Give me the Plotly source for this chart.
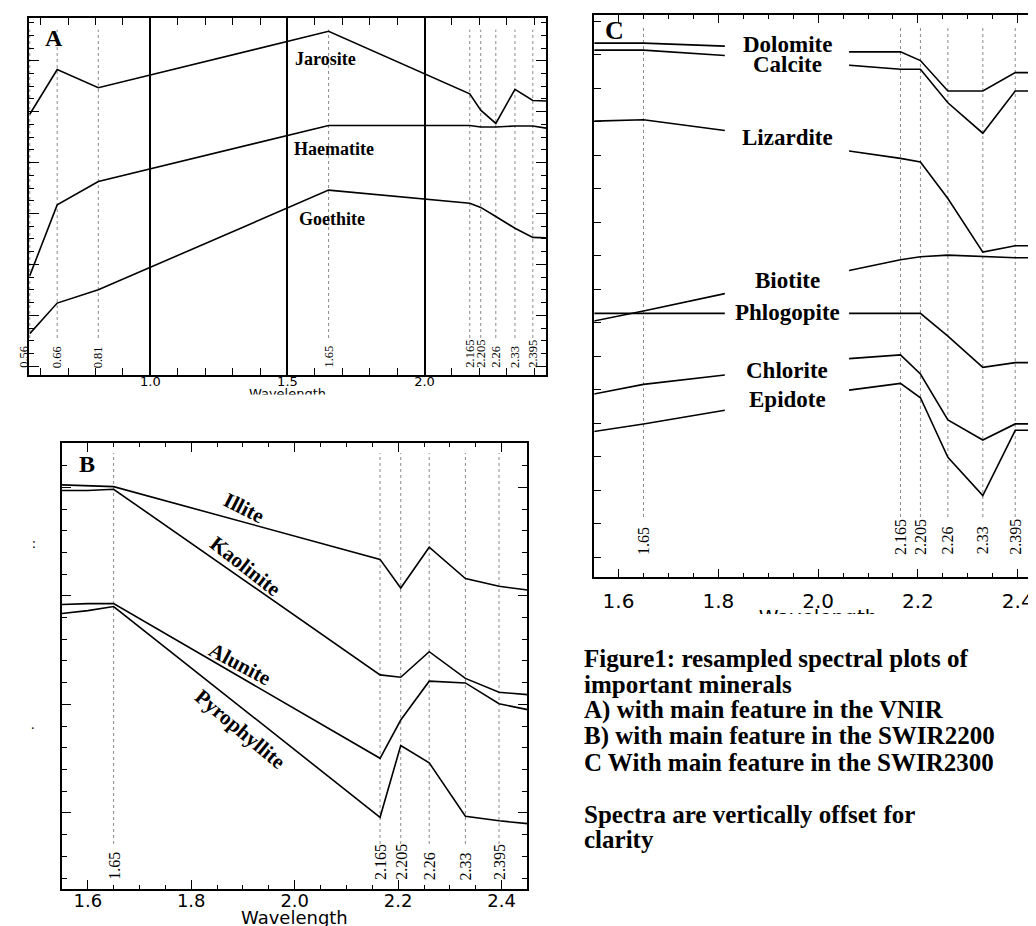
import plotly.graph_objects as go

W, H = 1036, 926

# ---------------- data (offset reflectance, arbitrary units) ----------------
# Panel A : main feature in the VNIR
wl_a = [0.56, 0.66, 0.81, 1.65, 2.165, 2.205, 2.26, 2.33, 2.395, 2.45]
jarosite = [5.95, 6.83, 6.47, 7.58, 6.35, 6.03, 5.77, 6.44, 6.22, 6.21]
haematite = [2.78, 4.17, 4.63, 5.73, 5.73, 5.70, 5.70, 5.72, 5.72, 5.67]
goethite = [1.64, 2.24, 2.50, 4.46, 4.20, 4.12, 3.94, 3.71, 3.53, 3.52]

# Panel B : main feature in the SWIR2200
wl_b = [1.55, 1.60, 1.65, 2.165, 2.205, 2.26, 2.33, 2.395, 2.45]
illite = [19.11, 19.06, 19.03, 15.68, 14.36, 16.24, 14.80, 14.44, 14.27]
kaolinite = [18.85, 18.85, 18.91, 10.36, 10.25, 11.43, 10.20, 9.56, 9.45]
alunite = [13.60, 13.64, 13.64, 6.52, 8.28, 10.07, 9.99, 9.03, 8.76]
pyrophyllite = [13.19, 13.32, 13.51, 3.80, 7.11, 6.31, 3.85, 3.64, 3.51]

# Panel C : main feature in the SWIR2300
wl_c = [1.55, 1.65, 1.813, 2.062, 2.165, 2.205, 2.26, 2.33, 2.395, 2.45]
dolomite = [16.35, 16.35, 16.26, 16.09, 16.09, 15.83, 14.92, 14.92, 15.47, 15.47]
calcite = [16.14, 16.14, 15.98, 15.70, 15.57, 15.57, 14.57, 13.66, 14.92, 14.92]
lizardite = [14.02, 14.06, 13.74, 13.13, 12.91, 12.80, 11.71, 10.11, 10.30, 10.30]
biotite = [8.05, 8.35, 8.87, 9.56, 9.88, 9.97, 10.02, 9.97, 9.94, 9.94]
phlogopite = [8.28, 8.28, 8.28, 8.28, 8.28, 8.28, 7.60, 6.67, 6.81, 6.81]
chlorite = [5.87, 6.16, 6.44, 6.93, 7.04, 6.47, 5.10, 4.50, 4.98, 4.98]
epidote = [4.75, 4.98, 5.39, 5.99, 6.19, 5.76, 3.98, 2.84, 4.79, 4.79]

bands_a = [0.56, 0.66, 0.81, 1.65, 2.165, 2.205, 2.26, 2.33, 2.395]
band_labels_a = ["0.56", "0.66", "0.81", "1.65", "2.165", "2.205", "2.26", "2.33", "2.395"]
bands_bc = [1.65, 2.165, 2.205, 2.26, 2.33, 2.395]
band_labels_bc = ["1.65", "2.165", "2.205", "2.26", "2.33", "2.395"]

ticks_a = [1.0, 1.5, 2.0]
tick_text_a = ["1.0", "1.5", "2.0"]
ticks_bc = [1.6, 1.8, 2.0, 2.2, 2.4]
tick_text_bc = ["1.6", "1.8", "2.0", "2.2", "2.4"]
x_title = "Wavelength"

caption_lines = [
    "Figure1: resampled spectral plots of",
    "important minerals",
    "A) with main feature in the VNIR",
    "B) with main feature in the SWIR2200",
    "C With main feature in the SWIR2300",
    "",
    "Spectra are vertically offset for",
    "clarity",
]

# ---------------- helpers ----------------
def px(x):
    return x / W

def py(y):
    return 1 - y / H

SERIF = "Liberation Serif"
SANS = "DejaVu Sans"
LINE = dict(color="black", width=1.6)

fig = go.Figure()

panels = [
    ("x", "y", wl_a, [jarosite, haematite, goethite], ["Jarosite", "Haematite", "Goethite"]),
    ("x2", "y2", wl_b, [illite, kaolinite, alunite, pyrophyllite],
     ["Illite", "Kaolinite", "Alunite", "Pyrophyllite"]),
    ("x3", "y3", wl_c, [dolomite, calcite, lizardite, biotite, phlogopite, chlorite, epidote],
     ["Dolomite", "Calcite", "Lizardite", "Biotite", "Phlogopite", "Chlorite", "Epidote"]),
]
for xa, ya, wl, series, names in panels:
    for ys, nm in zip(series, names):
        fig.add_trace(go.Scatter(x=wl, y=ys, mode="lines", line=LINE, name=nm,
                                 xaxis=xa, yaxis=ya, hoverinfo="skip", showlegend=False))

# invisible traces that carry the (cropped) axis titles of panels A and C
fig.add_trace(go.Scatter(x=[1.5], y=[None], xaxis="x4", yaxis="y", showlegend=False, hoverinfo="skip"))
fig.add_trace(go.Scatter(x=[2.0], y=[None], xaxis="x5", yaxis="y3", showlegend=False, hoverinfo="skip"))

shapes = []
annotations = []

# dotted band-centre lines and their rotated labels
def band_lines(bands, labels, xref, ytop, ybot, ylab, size, shift_first=0):
    for i, (b, lab) in enumerate(zip(bands, labels)):
        shapes.append(dict(type="line", xref=xref, yref="paper", x0=b, x1=b,
                           y0=py(ybot), y1=py(ytop), layer="below",
                           line=dict(color="#8a8a8a", width=1, dash="dot")))
        annotations.append(dict(x=b, xref=xref, y=py(ylab), yref="paper", text=lab,
                                showarrow=False, textangle=-90, xanchor="center",
                                yanchor="bottom", xshift=(shift_first if i == 0 else 0),
                                font=dict(family=SERIF, size=size, color="black")))

band_lines(bands_a, band_labels_a, "x", 21.6, 330, 362, 12.5, shift_first=-6)
band_lines(bands_bc, band_labels_bc, "x2", 445, 836, 874, 16)
band_lines(bands_bc, band_labels_bc, "x3", 18, 509, 548.5, 16)

# white gap behind the labels in panel C
shapes.append(dict(type="rect", xref="x3", yref="paper", x0=1.813, x1=2.062,
                   y0=py(420), y1=py(15), fillcolor="white", line=dict(width=0), layer="above"))
# crops of the original montage (bottom of panel A and C axes)
shapes.append(dict(type="rect", xref="paper", yref="paper", x0=0, x1=px(560),
                   y0=py(432), y1=py(386.5), fillcolor="white", line=dict(width=0), layer="above"))
shapes.append(dict(type="rect", xref="paper", yref="paper", x0=px(560), x1=1,
                   y0=py(630), y1=py(606), fillcolor="white", line=dict(width=0), layer="above"))

def label(text, x, y, size, angle=0, family=SERIF, bold=True, xanchor="center"):
    annotations.append(dict(x=px(x), y=py(y), xref="paper", yref="paper",
                            text=(f"<b>{text}</b>" if bold else text), showarrow=False,
                            textangle=angle, xanchor=xanchor, yanchor="middle",
                            font=dict(family=family, size=size, color="black")))

# panel letters
label("A", 46, 29.5, 24)
label("B", 79.5, 456, 24)
label("C", 608, 22.5, 26)

# panel A mineral names
label("Jarosite", 318, 51.5, 18)
label("Haematite", 327, 140.5, 18)
label("Goethite", 325, 211.5, 18)

# panel B mineral names (rotated along the spectra)
label("Illite", 236.5, 500, 21, angle=27)
label("Kaolinite", 237.5, 558, 21, angle=38)
label("Alunite", 232.5, 655.5, 21, angle=28)
label("Pyrophyllite", 232.5, 721, 21, angle=40)

# panel C mineral names
for nm, yy in zip(["Dolomite", "Calcite", "Lizardite", "Biotite", "Phlogopite", "Chlorite", "Epidote"],
                  [36.9, 56.1, 129, 272.8, 304.7, 362.2, 391.7]):
    label(nm, 780.7, yy, 23)

# panel B axis title
annotations.append(dict(x=2.0, xref="x2", y=py(909), yref="paper", text=x_title,
                        showarrow=False, xanchor="center", yanchor="middle",
                        font=dict(family=SANS, size=18, color="black")))

# stray remnants left of panel B
label(":", 26, 535, 14, bold=False)
label(".", 25, 716, 14, bold=False)

# caption
cap_y = [650, 676, 702, 728, 754, 780, 806, 831]
for txt, yy in zip(caption_lines, cap_y):
    if txt:
        label(txt, 575, yy, 25, xanchor="left")

axis_common = dict(showline=True, linecolor="black", linewidth=2, mirror="ticks",
                   ticks="inside", tickcolor="black", tickwidth=1.3, zeroline=False,
                   showgrid=False, fixedrange=True)
title_axis = dict(showline=False, ticks="", showgrid=False, zeroline=False, fixedrange=True,
                  tickmode="array", side="bottom")

fig.update_layout(
    width=W, height=H, margin=dict(l=0, r=0, t=0, b=0),
    paper_bgcolor="white", plot_bgcolor="rgba(0,0,0,0)", showlegend=False,
    font=dict(family=SANS, color="black"),
    xaxis=dict(axis_common, domain=[px(21), px(539)], anchor="y", range=[0.557, 2.443],
               tickmode="array", tickvals=ticks_a, ticktext=tick_text_a, ticklen=7,
               showgrid=True, gridcolor="black", gridwidth=1.5,
               tickfont=dict(family=SANS, size=13), ticklabelstandoff=-7,
               minor=dict(tick0=0, dtick=0.1, ticklen=7, ticks="inside", tickcolor="black",
                          tickwidth=1.3, showgrid=False)),
    xaxis4=dict(title_axis, overlaying="x", anchor="y", range=[0.557, 2.443],
                tickvals=[1.5], ticktext=[x_title], tickfont=dict(family=SANS, size=13),
                ticklabelstandoff=9),
    yaxis=dict(axis_common, domain=[py(367), py(10)], anchor="x", range=[0.827, 7.841],
               tick0=0, dtick=1, ticklen=10, showticklabels=False,
               minor=dict(dtick=0.25, ticklen=5, ticks="inside", tickcolor="black", tickwidth=1.3)),
    xaxis2=dict(axis_common, domain=[px(54), px(520.5)], anchor="y2", range=[1.55, 2.45],
                tickmode="array", tickvals=ticks_bc, ticktext=tick_text_bc, ticklen=9,
                tickfont=dict(family=SANS, size=18), ticklabelstandoff=-5,
                minor=dict(tick0=0, dtick=0.05, ticklen=4, ticks="inside", tickcolor="black",
                           tickwidth=1.3)),
    yaxis2=dict(axis_common, domain=[py(880.5), py(435)], anchor="x2", range=[0.522, 21.04],
                tick0=4, dtick=5, ticklen=9, showticklabels=False,
                minor=dict(dtick=1, ticklen=5, ticks="inside", tickcolor="black", tickwidth=1.3)),
    xaxis3=dict(axis_common, domain=[px(587.5), 1.0], anchor="y3", range=[1.5516, 2.4486],
                tickmode="array", tickvals=ticks_bc, ticktext=tick_text_bc, ticklen=8,
                tickfont=dict(family=SANS, size=20), ticklabelstandoff=5,
                minor=dict(tick0=0, dtick=0.05, ticklen=4, ticks="inside", tickcolor="black",
                           tickwidth=1.3)),
    xaxis5=dict(title_axis, overlaying="x3", anchor="y3", range=[1.5516, 2.4486],
                tickvals=[2.0], ticktext=[x_title], tickfont=dict(family=SANS, size=20),
                ticklabelstandoff=26),
    yaxis3=dict(axis_common, domain=[py(569.3), py(7)], anchor="x3", range=[0.4, 17.19],
                tick0=0, dtick=1, ticklen=7, showticklabels=False),
    shapes=shapes,
    annotations=annotations,
)

fig.write_html("out.html")
